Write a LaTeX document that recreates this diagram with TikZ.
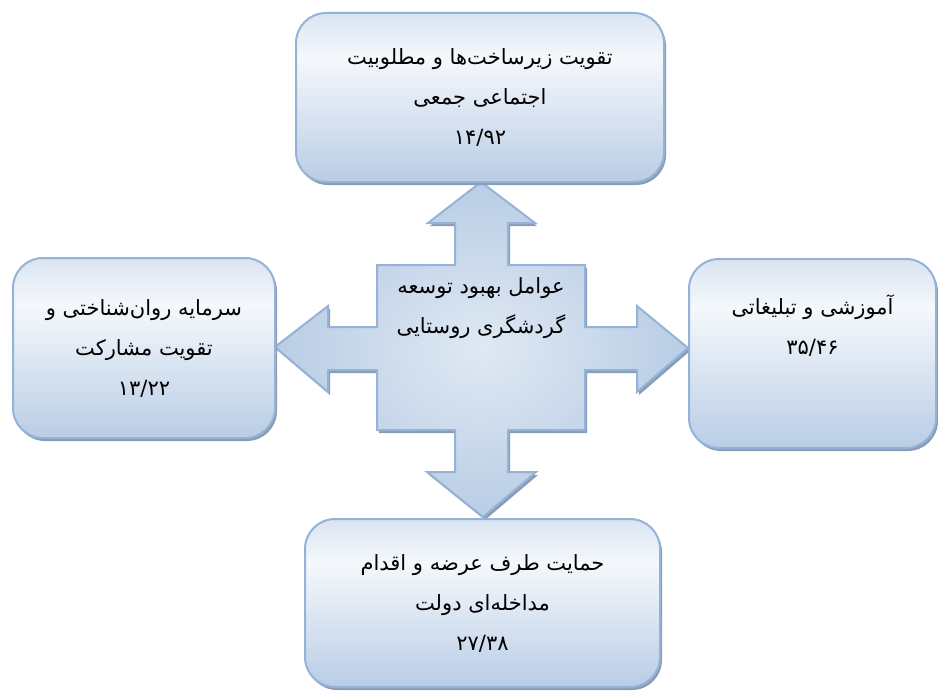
\documentclass[tikz,border=0pt]{standalone}
\usepackage{fontspec}
\newfontfamily\farsi[Script=Arabic]{DejaVu Sans}
\TeXXeTstate=1
\usetikzlibrary{shadows}

\definecolor{boxline}{HTML}{95B3D7}
\definecolor{boxfill}{HTML}{B9CDE5}
\definecolor{boxtop}{HTML}{D9E4F1}
\definecolor{boxlight}{HTML}{F5F8FC}
\definecolor{boxshadow}{HTML}{8A9DB6}
\pgfdeclareverticalshading{boxshade}{100bp}{color(0bp)=(boxfill); color(25bp)=(boxfill); color(62bp)=(boxlight); color(75bp)=(boxtop); color(100bp)=(boxtop)}

\begin{document}
\begin{tikzpicture}[x=1pt,y=-1pt,
	farsitext/.style={align=center,font=\farsi\fontsize{21}{40}\selectfont},
	box/.style={rectangle,rounded corners=30pt,draw=boxline,line width=2pt,shading=boxshade,
		drop shadow={shadow xshift=2pt,shadow yshift=-3pt,fill=boxshadow,opacity=1},farsitext},
	quad/.style={draw=boxline,line width=2pt,line join=miter,inner color=white!55!boxfill,outer color=boxfill,
		drop shadow={shadow xshift=2pt,shadow yshift=-3pt,fill=boxshadow,opacity=1}}]
	\useasboundingbox (0,0) rectangle (938,693);
	% four-way arrow in the middle
	\draw[quad] (481,182) -- (535,223) -- (508,223) -- (508,265) -- (585,265) -- (585,327) -- (637,327) -- (637,306)
		-- (688,348) -- (637,392) -- (637,370) -- (585,370) -- (585,430) -- (508,430) -- (508,472) -- (536,472)
		-- (483,517) -- (427,472) -- (455,472) -- (455,430) -- (377,430) -- (377,370) -- (328,370) -- (328,392)
		-- (275,347) -- (328,306) -- (328,327) -- (377,327) -- (377,265) -- (455,265) -- (455,223) -- (428,223) -- cycle;
	\path (481,308) node[farsitext] (hub) {\beginR عوامل بهبود توسعه\endR\\ \beginR گردشگری روستایی\endR};
	\path (480,97.5) node[box,minimum width=368pt,minimum height=169pt] (top) {\beginR تقویت زیرساخت‌ها و مطلوبیت\endR\\ \beginR اجتماعی جمعی\endR\\ ۱۴/۹۲}
		(144,348) node[box,minimum width=262pt,minimum height=180pt] (left) {\beginR سرمایه روان‌شناختی و\endR\\ \beginR تقویت مشارکت\endR\\ ۱۳/۲۲}
		(812.5,353.5) node[box,minimum width=247pt,minimum height=189pt] (right) {}
		(482.5,603) node[box,minimum width=355pt,minimum height=168pt] (bottom) {\beginR حمایت طرف عرضه و  اقدام\endR\\ \beginR مداخله‌ای دولت\endR\\ ۲۷/۳۸};
	\path (812.5,326) node[farsitext] (righttext) {\beginR آموزشی و تبلیغاتی\endR\\ ۳۵/۴۶};
\end{tikzpicture}
\end{document}
